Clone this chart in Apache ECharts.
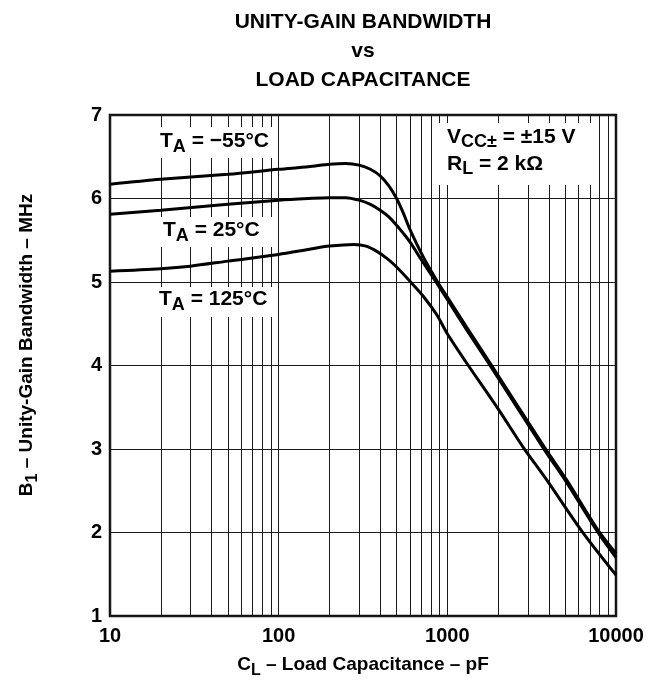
<!DOCTYPE html>
<html>
<head>
<meta charset="utf-8">
<title>Unity-Gain Bandwidth vs Load Capacitance</title>
<script src="https://cdn.jsdelivr.net/npm/echarts@6/dist/echarts.min.js"></script>
<style>
  html, body { margin: 0; padding: 0; background: #fff; }
  #chart { width: 662px; height: 684px; }
</style>
</head>
<body>
<div id="chart"></div>
<script>
// load capacitance in pF, bandwidth in MHz
const capM55 = [10, 20, 50, 100, 150, 200, 250, 300, 350, 400, 450, 500, 550, 600, 720, 870, 1000, 1300, 1832, 3767, 5093, 7816, 10000];
const bwM55  = [6.17, 6.23, 6.29, 6.35, 6.38, 6.41, 6.42, 6.40, 6.35, 6.27, 6.15, 6.00, 5.82, 5.63, 5.30, 5.01, 4.82, 4.46, 4.00, 3.02, 2.63, 2.03, 1.75];

const cap25 = [10, 20, 50, 100, 150, 200, 250, 300, 350, 400, 450, 500, 550, 600, 720, 870, 1000, 1300, 1832, 3767, 5093, 7816, 10000];
const bw25  = [5.81, 5.86, 5.93, 5.98, 6.00, 6.01, 6.01, 5.98, 5.93, 5.86, 5.78, 5.68, 5.58, 5.48, 5.23, 4.98, 4.79, 4.43, 3.97, 2.99, 2.60, 2.00, 1.70];

const cap125 = [10, 20, 30, 50, 100, 150, 200, 280, 330, 380, 440, 500, 600, 720, 864, 1000, 1271, 2000, 2818, 3882, 6252, 10000];
const bw125  = [5.13, 5.16, 5.19, 5.25, 5.33, 5.39, 5.43, 5.45, 5.43, 5.37, 5.28, 5.18, 5.01, 4.83, 4.61, 4.38, 4.06, 3.48, 3.02, 2.63, 2.02, 1.49];

// ticks
const xTicks = [10, 100, 1000, 10000];
const yTicks = [1, 2, 3, 4, 5, 6, 7];
// minor log grid lines (2..9 of each decade)
const xMinor = [20, 30, 40, 50, 60, 70, 80, 90,
                200, 300, 400, 500, 600, 700, 800, 900,
                2000, 3000, 4000, 5000, 6000, 7000, 8000, 9000];

const FONT = '"Liberation Sans", Arial, Helvetica, sans-serif';

const pairs = (xs, ys) => xs.map((x, i) => [x, ys[i]]);

// rich text styles: normal + lowered subscript
const rich = (size, subSize, shift) => ({
  n: { fontSize: size, fontWeight: 'bold', fontFamily: FONT, color: '#000', lineHeight: size + shift * 2 },
  s: { fontSize: subSize, fontWeight: 'bold', fontFamily: FONT, color: '#000', lineHeight: subSize, verticalAlign: 'bottom' }
});

const chart = echarts.init(document.getElementById('chart'), null, { renderer: 'canvas' });

const curve = (data) => ({
  type: 'line',
  data: data,
  z: 10,
  symbol: 'none',
  smooth: 0.3,
  lineStyle: { color: '#000', width: 3 }
});

chart.setOption({
  animation: false,
  backgroundColor: '#fff',
  grid: {
    left: 110, top: 115, width: 506, height: 501,
    show: true, borderColor: '#111', borderWidth: 2.5, backgroundColor: 'transparent'
  },
  xAxis: {
    type: 'log',
    logBase: 10,
    min: xTicks[0],
    max: xTicks[xTicks.length - 1],
    axisLine: { show: false },
    axisTick: { show: false },
    splitLine: { show: true, lineStyle: { color: '#1a1a1a', width: 1 } },
    axisLabel: {
      margin: 10,
      color: '#000', fontFamily: FONT, fontWeight: 'bold', fontSize: 20,
      showMinLabel: true, showMaxLabel: true,
      formatter: v => String(Math.round(v))
    }
  },
  yAxis: {
    type: 'value',
    min: yTicks[0],
    max: yTicks[yTicks.length - 1],
    interval: 1,
    axisLine: { show: false },
    axisTick: { show: false },
    splitLine: { show: true, lineStyle: { color: '#1a1a1a', width: 1 } },
    axisLabel: { margin: 8, color: '#000', fontFamily: FONT, fontWeight: 'bold', fontSize: 20 }
  },
  series: [
    {
      // minor grid only
      type: 'line',
      data: [],
      z: 1,
      markLine: {
        silent: true,
        symbol: 'none',
        z: 1,
        label: { show: false },
        lineStyle: { color: '#1a1a1a', width: 1, type: 'solid' },
        data: xMinor.map(v => ({ xAxis: v }))
      }
    },
    curve(pairs(capM55, bwM55)),
    curve(pairs(cap25, bw25)),
    curve(pairs(cap125, bw125))
  ],
  graphic: {
    elements: [
      // white boxes behind the labels, they break the grid lines
      { type: 'rect', z: 100, shape: { x: 150, y: 127, width: 127, height: 31 }, style: { fill: '#fff' } },
      { type: 'rect', z: 100, shape: { x: 150, y: 217, width: 127, height: 30 }, style: { fill: '#fff' } },
      { type: 'rect', z: 100, shape: { x: 150, y: 287, width: 127, height: 30 }, style: { fill: '#fff' } },
      { type: 'rect', z: 100, shape: { x: 438, y: 123, width: 156, height: 62 }, style: { fill: '#fff' } },

      { type: 'text', z: 101, x: 160, y: 141,
        style: { text: '{n|T}{s|A}{n| = −55°C}', rich: rich(21, 18, 5), verticalAlign: 'middle' } },
      { type: 'text', z: 101, x: 163, y: 230,
        style: { text: '{n|T}{s|A}{n| = 25°C}', rich: rich(21, 18, 5), verticalAlign: 'middle' } },
      { type: 'text', z: 101, x: 159, y: 299,
        style: { text: '{n|T}{s|A}{n| = 125°C}', rich: rich(21, 18, 5), verticalAlign: 'middle' } },
      { type: 'text', z: 101, x: 447, y: 137,
        style: { text: '{n|V}{s|CC±}{n| = ±15 V}', rich: rich(21, 18, 4), verticalAlign: 'middle' } },
      { type: 'text', z: 101, x: 447, y: 164,
        style: { text: '{n|R}{s|L}{n| = 2 kΩ}', rich: rich(21, 18, 4), verticalAlign: 'middle' } },

      // title
      { type: 'text', z: 101, x: 363, y: 8,
        style: {
          text: 'UNITY-GAIN BANDWIDTH\nvs\nLOAD CAPACITANCE',
          fill: '#000', font: 'bold 21px ' + FONT, lineHeight: 29, align: 'center', verticalAlign: 'top'
        } },
      // axis names
      { type: 'text', z: 101, x: 363, y: 665,
        style: { text: '{n|C}{s|L}{n| – Load Capacitance – pF}', rich: rich(19, 16, 4), align: 'center', verticalAlign: 'middle' } },
      { type: 'text', z: 101, x: 27, y: 345, rotation: Math.PI / 2,
        style: { text: '{n|B}{s|1}{n| – Unity-Gain Bandwidth – MHz}', rich: rich(19, 16, 4), align: 'center', verticalAlign: 'middle' } }
    ]
  }
});
</script>
</body>
</html>
